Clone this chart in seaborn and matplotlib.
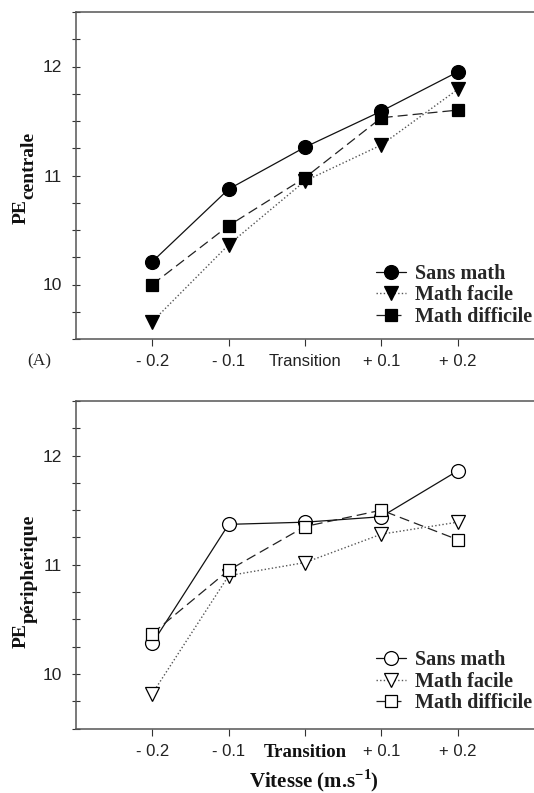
import numpy as np
import pandas as pd
import matplotlib
matplotlib.use("Agg")
import matplotlib.pyplot as plt
import seaborn as sns

# ---- data ----
categories = ['- 0.2', '- 0.1', 'Transition', '+ 0.1', '+ 0.2']
series_names = ['Sans math', 'Math facile', 'Math difficile']

centrale_sans = [10.21, 10.875, 11.26, 11.59, 11.95]
centrale_facile = [9.66, 10.365, 10.95, 11.28, 11.79]
centrale_difficile = [10.00, 10.54, 10.98, 11.53, 11.60]

peripherique_sans = [10.28, 11.37, 11.39, 11.44, 11.86]
peripherique_facile = [9.82, 10.90, 11.02, 11.28, 11.39]
peripherique_difficile = [10.37, 10.95, 11.35, 11.50, 11.23]

y_ticks = [10, 11, 12]

# ---- style ----
sns.set_style("ticks")
plt.rcParams['font.family'] = ['Liberation Sans', 'DejaVu Sans']
plt.rcParams['mathtext.fontset'] = 'custom'
plt.rcParams['mathtext.rm'] = 'Liberation Serif'
plt.rcParams['mathtext.bf'] = 'Liberation Serif:bold'

SERIF = ['Liberation Serif', 'DejaVu Serif']

fig = plt.figure(figsize=(5.34, 7.93), dpi=100)
W, H = 534.0, 793.0

def px_axes(left, top, right, bottom):
    return fig.add_axes([left / W, 1 - bottom / H, (right - left) / W, (bottom - top) / H])

ax1 = px_axes(76, 12, 534, 339)
ax2 = px_axes(76, 401, 534, 728.5)

x = np.arange(len(categories))

styles = {
    'Sans math': dict(marker='o', linestyle='-', ms=10, color='#111111', lw=0.9),
    'Math facile': dict(marker='v', linestyle=(0, (1, 1.6)), ms=10, color='#555555', lw=1.0),
    'Math difficile': dict(marker='s', linestyle=(0, (8, 4)), ms=9, color='#222222', lw=0.9),
}

def draw(ax, data, filled):
    for name, vals in zip(series_names, data):
        st = styles[name]
        sns.lineplot(x=x, y=vals, ax=ax, label=name,
                     marker=st['marker'], linestyle=st['linestyle'],
                     color=st['color'], lw=st['lw'], markersize=st['ms'],
                     markerfacecolor='black' if filled else 'white',
                     markeredgecolor='black', markeredgewidth=0.9)
    ax.set_xlim(-1, 5)
    ax.set_ylim(9.5, 12.5)
    ax.set_xticks(x)
    ax.set_xticklabels(categories)
    ax.set_yticks(y_ticks)
    ax.set_yticklabels([str(v) for v in y_ticks])
    ax.set_yticks(np.arange(9.5, 12.51, 0.25), minor=True)
    ax.tick_params(axis='x', direction='out', length=5, width=0.8, pad=6,
                   labelsize=12, colors='#333333', labelcolor='#222222')
    ax.tick_params(axis='y', which='both', direction='inout', length=6, width=0.8, pad=7,
                   labelsize=12.5, colors='#333333', labelcolor='#222222')
    ax.spines['right'].set_visible(False)
    for s in ['left', 'bottom', 'top']:
        ax.spines[s].set_color('#555555')
        ax.spines[s].set_linewidth(1.1)
    ax.set_xlabel('')
    ax.set_ylabel('')

draw(ax1, [centrale_sans, centrale_facile, centrale_difficile], True)
draw(ax2, [peripherique_sans, peripherique_facile, peripherique_difficile], False)

# bold serif "Transition" on lower panel
for lab in ax2.get_xticklabels():
    if lab.get_text() == 'Transition':
        lab.set_fontfamily(SERIF)
        lab.set_fontweight('bold')
        lab.set_fontsize(13.5)
        lab.set_color('#111111')

for ax, cy in [(ax1, 0.134), (ax2, 0.143)]:
    leg = ax.legend(loc='center left', bbox_to_anchor=(0.654, cy), frameon=False,
                    prop={'family': SERIF, 'weight': 'bold', 'size': 14.5},
                    handlelength=1.5, handletextpad=0.45, labelspacing=0.08,
                    borderpad=0, borderaxespad=0)

# y labels: "PE" + large subscript
def ylab(sub, y_split, x_pe, x_sub):
    fig.text(x_pe / W, 1 - y_split / H, 'PE', rotation=90, ha='center', va='top',
             family=SERIF, weight='bold', size=14, color='#111111')
    fig.text(x_sub / W, 1 - y_split / H, sub, rotation=90, ha='center', va='bottom',
             family=SERIF, weight='bold', size=14, color='#111111')

ylab('centrale', 199, 21, 29)
ylab('périphérique', 623, 21, 29)

fig.text(39.5 / W, 1 - 361 / H, '(A)', ha='center', va='center',
         family=SERIF, size=12.5, color='#222222')

fig.text(314 / W, 1 - 781 / H, r'Vitesse (m.s$^{\mathbf{-1}}$)', ha='center', va='center',
         family=SERIF, weight='bold', size=15, color='#111111')

fig.savefig('out.png', dpi=100)
